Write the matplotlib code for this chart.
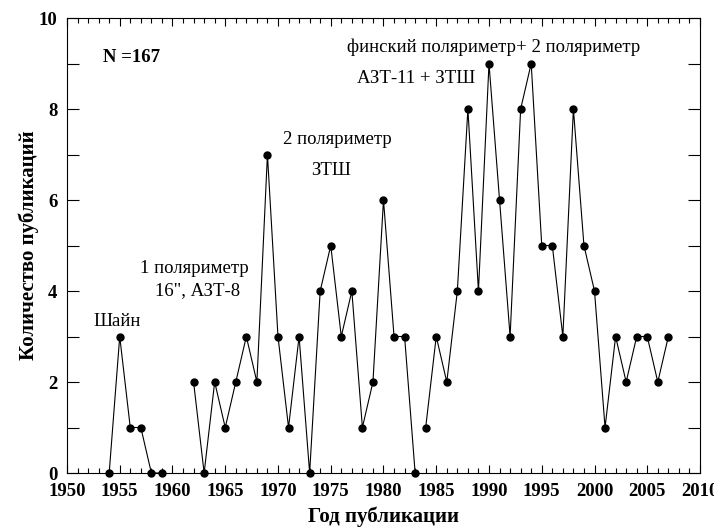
import matplotlib
matplotlib.use("Agg")
import matplotlib.pyplot as plt
from matplotlib.ticker import MultipleLocator

# ── Data ──────────────────────────────────────────────────────────────────────
years = [1954, 1955, 1956, 1957, 1958, 1959,
         1962, 1963, 1964, 1965, 1966, 1967, 1968, 1969, 1970, 1971, 1972,
         1973, 1974, 1975, 1976, 1977, 1978, 1979, 1980, 1981, 1982, 1983,
         1984, 1985, 1986, 1987, 1988, 1989, 1990, 1991, 1992, 1993, 1994,
         1995, 1996, 1997, 1998, 1999, 2000, 2001, 2002, 2003, 2004, 2005,
         2006, 2007]
counts = [0, 3, 1, 1, 0, 0,
          2, 0, 2, 1, 2, 3, 2, 7, 3, 1, 3,
          0, 4, 5, 3, 4, 1, 2, 6, 3, 3, 0,
          1, 3, 2, 4, 8, 4, 9, 6, 3, 8, 9,
          5, 5, 3, 8, 5, 4, 1, 3, 2, 3, 3,
          2, 3]
# the line is broken before these years
segment_starts = [1962, 1984]

annotations = [
    ("N =167", 1953.4, 9.13, "bold", "left"),
    ("Шайн", 1954.8, 3.33, "normal", "center"),
    ("1 поляриметр", 1962.1, 4.49, "normal", "center"),
    ("16\", АЗТ-8", 1962.4, 4.0, "normal", "center"),
    ("2 поляриметр", 1975.6, 7.32, "normal", "center"),
    ("ЗТШ", 1975.0, 6.65, "normal", "center"),
    ("финский поляриметр+ 2 поляриметр", 1990.4, 9.35, "normal", "center"),
    ("АЗТ-11 + ЗТШ", 1983.1, 8.68, "normal", "center"),
]

plt.rcParams["font.family"] = ["Liberation Serif", "DejaVu Serif"]

fig = plt.figure(figsize=(7.14, 5.31), dpi=100)
ax = fig.add_axes([0.0938, 0.1092, 0.8866, 0.8569])

# split into connected segments
bounds = [0] + [years.index(y) for y in segment_starts] + [len(years)]
for a, b in zip(bounds[:-1], bounds[1:]):
    ax.plot(years[a:b], counts[a:b], color="black", lw=0.8,
            marker="o", ms=5, clip_on=False, zorder=3)

for text, x, y, weight, ha in annotations:
    ax.text(x, y, text, fontsize=13.5, fontweight=weight, ha=ha, va="center")

ax.set_xlim(1950, 2010)
ax.set_ylim(0, 10)
ax.xaxis.set_major_locator(MultipleLocator(5))
ax.xaxis.set_minor_locator(MultipleLocator(1))
ax.yaxis.set_major_locator(MultipleLocator(2))
ax.yaxis.set_minor_locator(MultipleLocator(1))

ax.tick_params(axis="x", which="both", direction="in", top=True,
               labelsize=13.5, pad=7, width=0.8)
ax.tick_params(axis="x", which="major", length=6)
ax.tick_params(axis="x", which="minor", length=3.5)
ax.tick_params(axis="y", which="both", direction="in", right=True,
               labelsize=13.5, pad=7, width=0.8, length=8.5)
for lbl in ax.get_xticklabels() + ax.get_yticklabels():
    lbl.set_fontweight("bold")
for sp in ax.spines.values():
    sp.set_linewidth(0.8)

ax.set_xlabel("Год публикации", fontsize=15, fontweight="bold", labelpad=5)
ax.set_ylabel("Количество публикаций", fontsize=15, fontweight="bold", labelpad=0)

fig.savefig("out.png", dpi=100)
